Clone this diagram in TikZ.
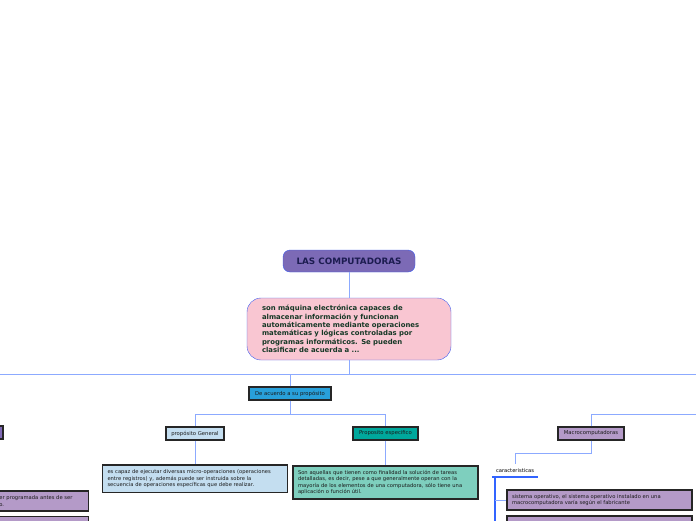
\documentclass[tikz,border=0pt]{standalone}
\usepackage{fontspec}
\setmainfont{DejaVu Sans}
\usepackage{tikz}
\usetikzlibrary{positioning}
\definecolor{titlefill}{RGB}{124,106,182}
\definecolor{titletext}{RGB}{28,28,80}
\definecolor{defpink}{RGB}{249,198,210}
\definecolor{deftext}{RGB}{22,56,38}
\definecolor{edgeblue}{RGB}{60,92,240}
\definecolor{linkblue}{RGB}{140,170,255}
\definecolor{barblue}{RGB}{50,100,255}
\definecolor{boxsky}{RGB}{40,160,218}
\definecolor{boxpale}{RGB}{196,222,240}
\definecolor{boxteal}{RGB}{0,168,156}
\definecolor{boxmint}{RGB}{126,207,190}
\definecolor{boxlila}{RGB}{180,154,200}
\definecolor{boxviolet}{RGB}{128,106,182}

\begin{document}
\begin{tikzpicture}[x=1pt, y=-1pt,
    titlebox/.style={rectangle, rounded corners=7pt, draw=edgeblue, fill=titlefill, text=titletext, font=\bfseries\fontsize{8.8}{10}\selectfont, minimum width=132pt, minimum height=22pt, inner sep=0pt},
    defbox/.style={rectangle, rounded corners=14pt, draw=edgeblue, fill=defpink, text=deftext, font=\bfseries\fontsize{6.9}{8.4}\selectfont, align=left, minimum width=204pt, minimum height=62pt, text width=174pt, inner xsep=15pt},
    tagbox/.style={rectangle, draw=black!85, line width=1.2pt, text=black!90, font=\fontsize{5.3}{6.5}\selectfont, minimum height=13pt, inner xsep=4pt, inner ysep=0pt},
    notebox/.style={rectangle, draw=black!85, line width=1.2pt, text=black!90, font=\fontsize{5.2}{6.5}\selectfont, align=left, text width=175pt, inner xsep=5pt, inner ysep=0pt},
    link/.style={draw=linkblue, line width=0.9pt},
    bar/.style={draw=barblue, line width=1.6pt}
]
\useasboundingbox (0,0) rectangle (696,520);
\clip (0,0) rectangle (696,520);

\node[titlebox] (title) at (349,261) {LAS COMPUTADORAS};
\node[defbox] (def) at (349,329) {son máquina electrónica capaces de\\almacenar información y funcionan\\automáticamente mediante operaciones\\matemáticas y lógicas controladas por\\programas informáticos. Se pueden\\clasificar de acuerda a ...};
\node[tagbox, fill=boxsky, minimum width=82pt] (acuerdo) at (290,393.5) {De acuerdo a su propósito};
\node[tagbox, fill=boxpale, minimum width=58pt] (general) at (195,433.5) {propósito General};
\node[tagbox, fill=boxteal, minimum width=65pt] (especifico) at (385.5,433.5) {Proposito especifico};
\node[tagbox, fill=boxlila, minimum width=66pt] (macro) at (591,433.5) {Macrocomputadoras};
\node[tagbox, fill=boxviolet, minimum width=70pt] (micro) at (-32,432.5) {};

\node[notebox, fill=boxpale, minimum height=27.5pt] (generalnota) at (195,478.75) {es capaz de ejecutar diversas micro-operaciones (operaciones\\entre registros) y, además puede ser instruida sobre la\\secuencia de operaciones específicas que debe realizar.};
\node[notebox, fill=boxmint, minimum height=33pt] (especificonota) at (385.5,482.5) {Son aquellas que tienen como finalidad la solución de tareas\\detalladas, es decir, pese a que generalmente operan con la\\mayoría de los elementos de una computadora, sólo tiene una\\aplicación o función útil.};
\node[font=\fontsize{5.2}{6.5}\selectfont, minimum height=13pt, inner xsep=4pt, inner ysep=0pt] (carac) at (515,470.5) {caracteristicas};
\node[notebox, fill=boxlila, minimum height=20pt] (sistema) at (599.5,500) {sistema operativo, el sistema operativo instalado en una\\macrocomputadora varía según el fabricante};
\node[notebox, fill=boxlila, minimum height=20pt] (sistemasig) at (599.5,526) {};
\node[notebox, fill=boxlila, minimum height=20pt, text width=87pt, inner xsep=2pt, anchor=east] (programada) at (89,501) {er programada antes de ser\\o.};
\node[notebox, fill=boxlila, minimum height=20pt, anchor=east] (programadasig) at (89,526.5) {};

\coordinate (busL) at (-5,374);
\coordinate (busR) at (701,374);
\coordinate (macroR) at (701,414);
\coordinate (trunk) at (495,530);

\draw[link] (title) -- (def);
\draw[link] (def.south) |- (busL);
\draw[link] (def.south) |- (busR);
\draw[link] (acuerdo.north) -- (acuerdo.north |- busL);
\draw[link] (acuerdo.south) -- ++(0,14) -| (general.north);
\draw[link] (acuerdo.south) -- ++(0,14) -| (especifico.north);
\draw[link] (general) -- (generalnota);
\draw[link] (especifico) -- (especificonota);
\draw[link] (macro.north) |- (macroR);
\draw[link] (macro.south) -- ++(0,13) -| (carac.north);
\draw[bar] (carac.south west) -- (carac.south east);
\draw[bar] (trunk |- carac.south) -- (trunk);
\draw[link] (trunk |- sistema.west) -- (sistema.west);
\draw[link] (trunk |- sistemasig.west) -- (sistemasig.west);
\end{tikzpicture}
\end{document}
